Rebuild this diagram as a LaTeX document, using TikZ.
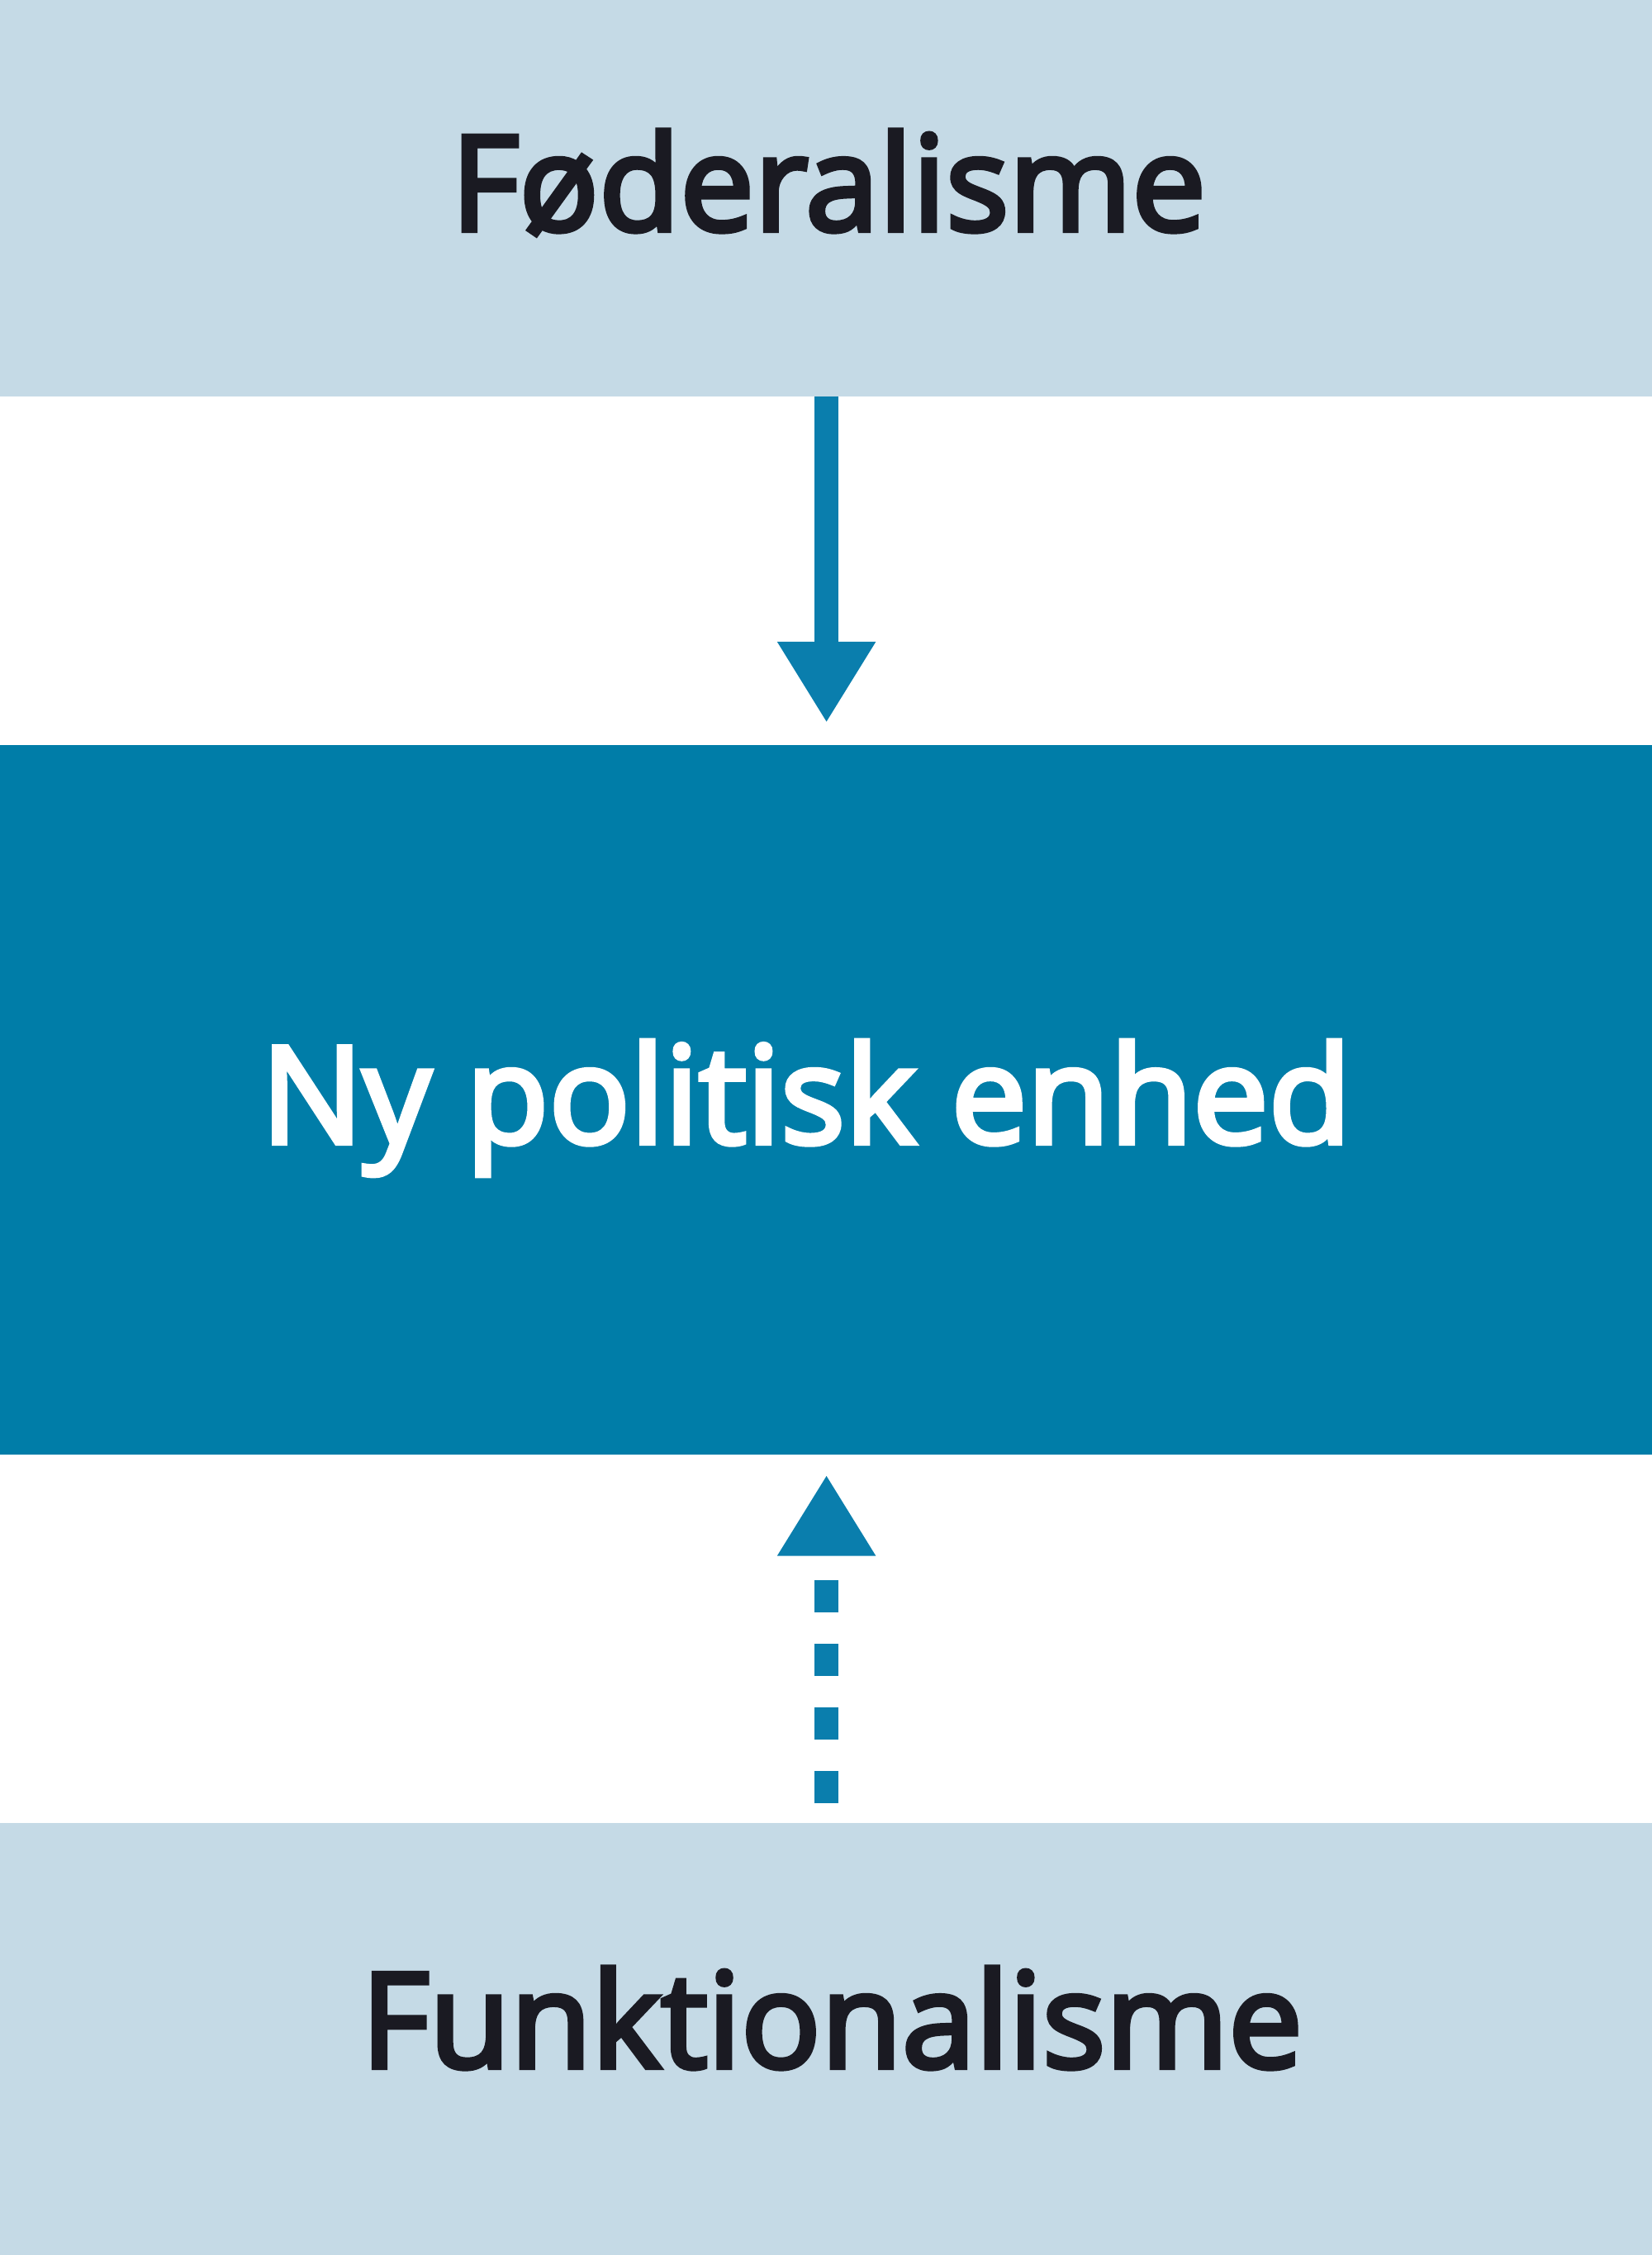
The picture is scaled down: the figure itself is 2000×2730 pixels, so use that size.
\documentclass[tikz,border=0pt]{standalone}
\usepackage{fontspec}
\setmainfont{Open Sans}
\newfontfamily\lblfont{Open Sans}[BoldFont={Open Sans}, BoldFeatures={FakeBold=3.8}]
\usetikzlibrary{arrows.meta}
\definecolor{lightbg}{HTML}{C5DAE6}
\definecolor{darkbg}{HTML}{007DA8}
\definecolor{arrowc}{HTML}{0A7EAD}
\definecolor{txtdark}{HTML}{1A1A22}
\tikzset{
  band/.style={draw=none, inner sep=0pt, outer sep=0pt, minimum width=20cm, anchor=north west},
  label/.style={anchor=base, inner sep=0pt, font=\lblfont\bfseries\fontsize{45.5}{55}\selectfont},
  biglabel/.style={label, font=\lblfont\bfseries\fontsize{46.5}{56}\selectfont},
  conn/.style={draw=arrowc, line width=0.29cm, line cap=butt,
    -{Triangle[width=1.12cm,length=0.98cm]}},
  dashconn/.style={conn, dash pattern=on 0.39cm off 0.38cm}
}
\begin{document}
\begin{tikzpicture}[x=0.01cm,y=-0.01cm]
\useasboundingbox (0,0) rectangle (2000,2730);
\node[band, fill=lightbg, minimum height=4.8cm] (top) at (0,0) {};
\node[band, fill=darkbg, minimum height=8.58cm] (mid) at (0,902) {};
\node[band, fill=lightbg, minimum height=5.23cm] (bot) at (0,2207) {};
\node[label, text=txtdark] (ttop) at (1003,279) {Føderalisme};
\node[biglabel, text=white] (tmid) at (976,1384) {Ny politisk enhed};
\node[label, text=txtdark] (tbot) at (1007,2503) {Funktionalisme};
\draw[conn, shorten >=0.27cm] (top.south) -- (mid.north);
\draw[dashconn, shorten >=0.25cm] ([yshift=0.24cm]bot.north) -- (mid.south);
\end{tikzpicture}
\end{document}
